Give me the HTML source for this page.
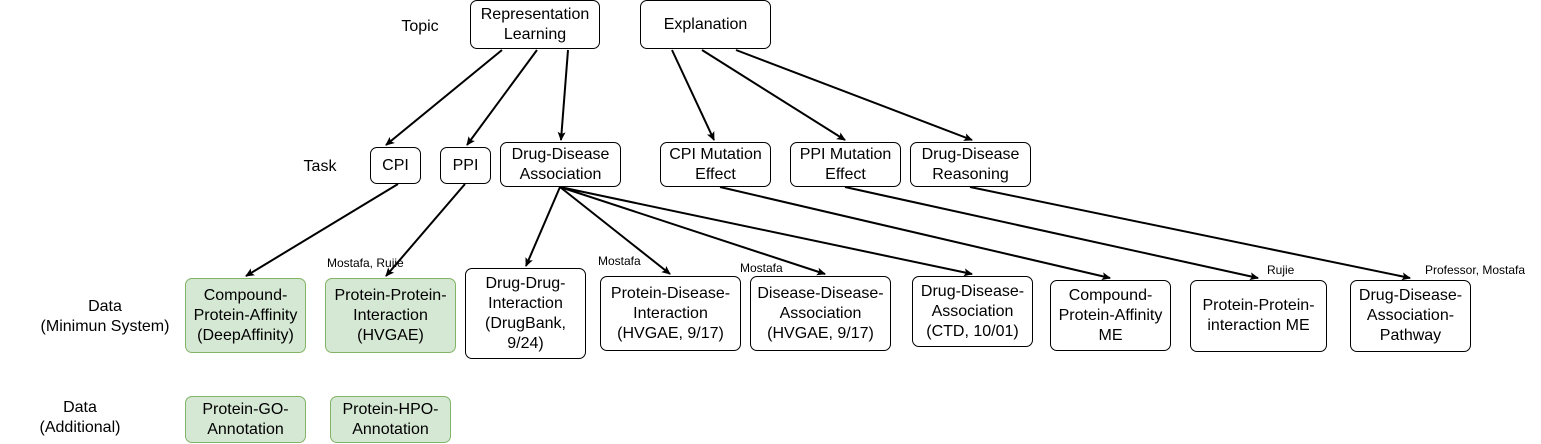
<!DOCTYPE html>
<html><head><meta charset="utf-8"><style>
body{margin:0;width:1541px;height:444px;background:#fff;position:relative;overflow:hidden;font-family:"Liberation Sans",sans-serif;color:#000}
.b{position:absolute;box-sizing:border-box;border:1px solid #000;border-radius:7px;background:#fff;display:flex;align-items:center;justify-content:center;text-align:center;font-size:16px;line-height:20px}
.g{background:#d5e8d4;border-color:#82b366}
.t{position:absolute;font-size:16px;text-align:center;line-height:20px}
.s{position:absolute;font-size:12px}
svg{position:absolute;left:0;top:0}
</style></head><body>
<svg width="1541" height="444">
<defs><marker id="a" markerWidth="10" markerHeight="10" refX="8" refY="4" orient="auto" markerUnits="userSpaceOnUse"><path d="M0,0 L9,4 L0,8 L2,4z" fill="#000"/></marker></defs>
<g stroke="#000" stroke-width="2" fill="none" marker-end="url(#a)">
<line x1="502" y1="50" x2="386" y2="145"/>
<line x1="537" y1="50" x2="467" y2="145"/>
<line x1="568" y1="50" x2="561" y2="140"/>
<line x1="672" y1="50" x2="714" y2="140"/>
<line x1="702" y1="50" x2="845" y2="140"/>
<line x1="736" y1="50" x2="972" y2="140"/>
<line x1="398" y1="184" x2="246" y2="276"/>
<line x1="465" y1="184" x2="386" y2="276"/>
<line x1="560" y1="187" x2="526" y2="266"/>
<line x1="560" y1="187" x2="670" y2="274"/>
<line x1="560" y1="187" x2="825" y2="274"/>
<line x1="560" y1="187" x2="972" y2="274"/>
<line x1="720" y1="187" x2="1110" y2="278"/>
<line x1="845" y1="187" x2="1258" y2="278"/>
<line x1="970" y1="187" x2="1410" y2="278"/>
</g></svg>
<div class="t" style="left:395px;top:17px;width:50px">Topic</div>
<div class="t" style="left:295px;top:157px;width:50px">Task</div>
<div class="t" style="left:20px;top:297px;width:170px">Data<br>(Minimun System)</div>
<div class="t" style="left:20px;top:398px;width:120px">Data<br>(Additional)</div>

<div class="b" style="left:470px;top:0;width:130px;height:49px">Representation<br>Learning</div>
<div class="b" style="left:640px;top:0;width:131px;height:49px">Explanation</div>

<div class="b" style="left:370px;top:147px;width:51px;height:37px">CPI</div>
<div class="b" style="left:440px;top:147px;width:51px;height:37px">PPI</div>
<div class="b" style="left:500px;top:142px;width:121px;height:45px">Drug-Disease<br>Association</div>
<div class="b" style="left:660px;top:142px;width:111px;height:45px">CPI Mutation<br>Effect</div>
<div class="b" style="left:790px;top:142px;width:111px;height:45px">PPI Mutation<br>Effect</div>
<div class="b" style="left:910px;top:142px;width:121px;height:45px">Drug-Disease<br>Reasoning</div>

<div class="b g" style="left:185px;top:278px;width:121px;height:75px">Compound-<br>Protein-Affinity<br>(DeepAffinity)</div>
<div class="b g" style="left:325px;top:278px;width:131px;height:75px">Protein-Protein-<br>Interaction<br>(HVGAE)</div>
<div class="b" style="left:465px;top:268px;width:121px;height:91px">Drug-Drug-<br>Interaction<br>(DrugBank,<br>9/24)</div>
<div class="b" style="left:600px;top:276px;width:141px;height:75px">Protein-Disease-<br>Interaction<br>(HVGAE, 9/17)</div>
<div class="b" style="left:750px;top:276px;width:141px;height:75px">Disease-Disease-<br>Association<br>(HVGAE, 9/17)</div>
<div class="b" style="left:912px;top:276px;width:121px;height:71px">Drug-Disease-<br>Association<br>(CTD, 10/01)</div>
<div class="b" style="left:1050px;top:280px;width:121px;height:71px">Compound-<br>Protein-Affinity<br>ME</div>
<div class="b" style="left:1190px;top:280px;width:137px;height:72px">Protein-Protein-<br>interaction ME</div>
<div class="b" style="left:1350px;top:280px;width:121px;height:72px">Drug-Disease-<br>Association-<br>Pathway</div>

<div class="b g" style="left:185px;top:396px;width:121px;height:47px">Protein-GO-<br>Annotation</div>
<div class="b g" style="left:330px;top:396px;width:121px;height:47px">Protein-HPO-<br>Annotation</div>

<div class="s" style="left:327px;top:256px">Mostafa, Rujie</div>
<div class="s" style="left:598px;top:254px">Mostafa</div>
<div class="s" style="left:740px;top:261px">Mostafa</div>
<div class="s" style="left:1267px;top:263px">Rujie</div>
<div class="s" style="left:1425px;top:263px">Professor, Mostafa</div>
</body></html>
